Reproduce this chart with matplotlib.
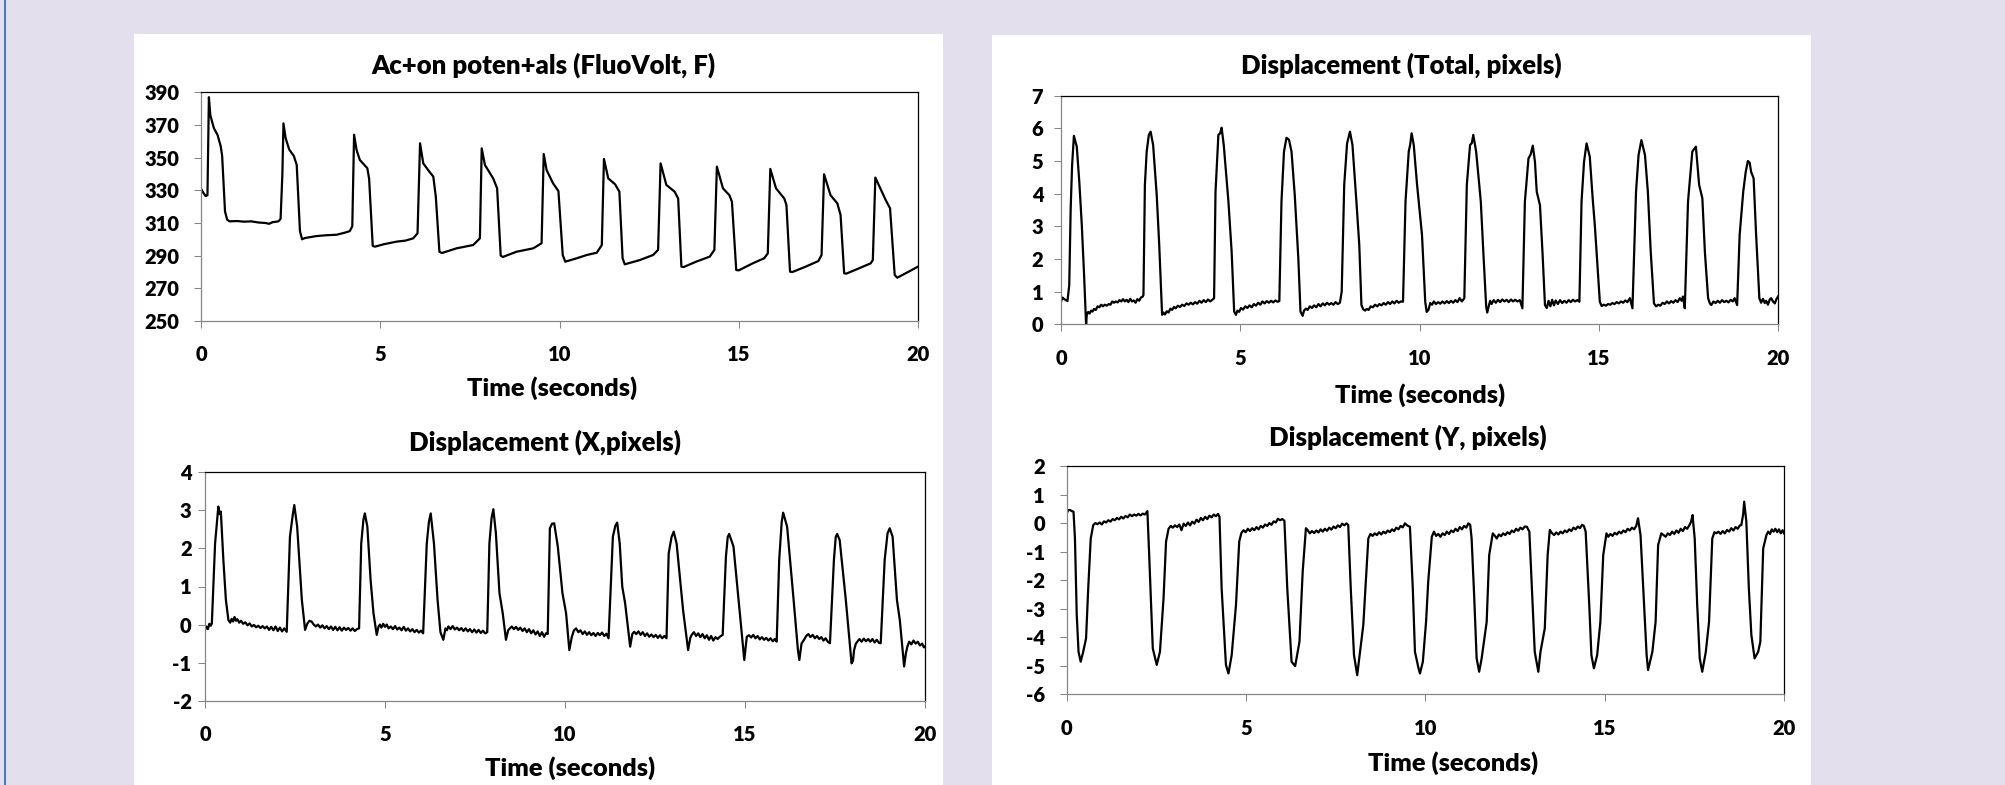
import matplotlib
matplotlib.use("Agg")
import matplotlib.pyplot as plt
from matplotlib.patches import Rectangle
from matplotlib.lines import Line2D

W, H = 2005, 785

# ---- traces: (time s, value) ----
ap_pts = [
    (0.00, 331), (0.05, 329), (0.13, 326.5), (0.18, 327), (0.22, 387), (0.26, 376), (0.36, 368),
    (0.46, 364), (0.55, 357), (0.59, 351), (0.67, 317), (0.73, 312), (0.80, 311), (1.0, 311.2),
    (1.2, 310.8), (1.4, 311), (1.6, 310.3), (1.8, 310), (1.9, 309.5), (2.0, 310.5), (2.16, 311),
    (2.22, 312.5), (2.27, 340), (2.30, 371), (2.36, 362), (2.46, 355), (2.59, 351), (2.67, 345.5),
    (2.76, 305), (2.82, 300), (2.9, 300.8), (3.22, 302), (3.5, 302.5), (3.78, 302.8), (4.0, 304),
    (4.15, 305), (4.22, 308), (4.27, 364), (4.34, 354.7), (4.43, 348.6), (4.64, 343.5), (4.69, 337),
    (4.79, 296), (4.85, 295.5), (5.1, 297), (5.46, 298.6), (5.7, 299.2), (5.92, 300.6), (6.04, 303.7),
    (6.11, 358.8), (6.20, 346.5), (6.37, 341.4), (6.48, 338.4), (6.55, 326), (6.65, 292.4),
    (6.72, 291.6), (7.13, 294.5), (7.59, 296.5), (7.78, 300.6), (7.83, 355.7), (7.92, 345.5),
    (8.15, 337.3), (8.26, 331.2), (8.36, 290), (8.42, 289.2), (8.80, 292.4), (9.27, 294.5),
    (9.50, 297.6), (9.56, 352.2), (9.64, 342.4), (9.82, 334.3), (9.97, 329.5), (10.09, 290.4),
    (10.16, 286.3), (10.48, 288.4), (10.76, 290.4), (11.04, 291.8), (11.18, 296.5), (11.24, 349.2),
    (11.36, 337.3), (11.55, 333.7), (11.67, 329.2), (11.76, 288.4), (11.82, 284.7), (12.24, 287.3),
    (12.61, 290.4), (12.75, 293.5), (12.82, 346.5), (12.98, 333.3), (13.21, 329.2), (13.31, 325),
    (13.40, 283.3), (13.46, 283), (13.81, 286.3), (14.19, 289.4), (14.32, 293.5), (14.39, 344.5),
    (14.56, 331.2), (14.74, 327), (14.81, 323), (14.93, 281.2), (15.0, 281), (15.39, 285.3),
    (15.71, 288.4), (15.81, 291.4), (15.88, 343.1), (16.04, 331.2), (16.27, 325), (16.33, 321),
    (16.43, 280.2), (16.5, 280), (16.87, 283.3), (17.22, 286.7), (17.31, 290.4), (17.38, 339.8),
    (17.56, 327), (17.75, 322), (17.84, 314.9), (17.94, 279.2), (18.0, 279), (18.35, 282.2),
    (18.68, 285.3), (18.74, 287.3), (18.81, 337.8), (18.95, 331.2), (19.10, 324), (19.22, 319),
    (19.35, 278.2), (19.42, 276.5), (19.74, 280.2), (20.0, 283.3),
]

tot_pts = [
    (0.00, 0.69), (0.04, 0.82), (0.08, 0.78), (0.12, 0.75), (0.18, 0.71), (0.23, 1.2), (0.27, 3.55),
    (0.31, 4.88), (0.36, 5.77), (0.40, 5.6), (0.44, 5.44), (0.51, 4.37), (0.58, 3.04), (0.64, 1.61),
    (0.70, 0.0), (0.72, 0.29), (0.76, 0.38), (0.80, 0.33), (0.84, 0.42), (0.88, 0.39), (0.92, 0.47),
    (0.97, 0.44), (1.02, 0.55), (1.07, 0.52), (1.12, 0.6), (1.17, 0.55), (1.22, 0.6), (1.28, 0.57),
    (1.33, 0.62), (1.38, 0.6), (1.43, 0.7), (1.48, 0.66), (1.53, 0.7), (1.58, 0.67), (1.63, 0.74),
    (1.68, 0.7), (1.73, 0.77), (1.78, 0.7), (1.83, 0.75), (1.88, 0.68), (1.93, 0.78), (1.98, 0.7),
    (2.03, 0.73), (2.08, 0.66), (2.13, 0.77), (2.18, 0.72), (2.23, 0.82), (2.28, 0.85), (2.30, 0.9),
    (2.34, 4.27), (2.39, 5.29), (2.45, 5.8), (2.50, 5.9), (2.57, 5.49), (2.67, 3.96), (2.74, 2.43),
    (2.82, 0.29), (2.86, 0.36), (2.90, 0.3), (2.95, 0.4), (3.0, 0.36), (3.05, 0.48), (3.1, 0.44),
    (3.15, 0.53), (3.2, 0.49), (3.26, 0.57), (3.32, 0.53), (3.38, 0.6), (3.44, 0.56), (3.5, 0.64),
    (3.56, 0.6), (3.62, 0.66), (3.68, 0.61), (3.74, 0.68), (3.8, 0.63), (3.86, 0.72), (3.92, 0.66),
    (3.98, 0.74), (4.04, 0.68), (4.1, 0.76), (4.16, 0.7), (4.22, 0.75), (4.27, 0.8),
    (4.31, 4.06), (4.39, 5.8), (4.44, 5.85), (4.48, 6.02), (4.54, 5.49), (4.67, 3.76), (4.76, 2.22),
    (4.83, 0.39), (4.88, 0.29), (4.92, 0.42), (4.97, 0.38), (5.02, 0.5), (5.08, 0.45), (5.14, 0.55),
    (5.2, 0.5), (5.26, 0.58), (5.32, 0.52), (5.38, 0.62), (5.44, 0.57), (5.5, 0.66), (5.56, 0.6),
    (5.62, 0.7), (5.68, 0.64), (5.74, 0.71), (5.8, 0.66), (5.86, 0.72), (5.92, 0.67), (5.98, 0.73),
    (6.04, 0.69), (6.09, 0.71),
    (6.15, 3.76), (6.22, 5.29), (6.29, 5.71), (6.36, 5.65), (6.43, 5.29), (6.52, 3.96), (6.62, 2.02),
    (6.68, 0.39), (6.74, 0.26), (6.78, 0.42), (6.83, 0.48), (6.88, 0.44), (6.94, 0.55), (7.0, 0.5),
    (7.06, 0.58), (7.12, 0.52), (7.18, 0.62), (7.24, 0.55), (7.3, 0.64), (7.36, 0.58), (7.42, 0.66),
    (7.48, 0.6), (7.54, 0.65), (7.6, 0.6), (7.66, 0.68), (7.72, 0.62), (7.78, 0.66), (7.83, 1.0),
    (7.90, 4.27), (7.98, 5.54), (8.06, 5.9), (8.13, 5.49), (8.24, 3.76), (8.32, 2.43),
    (8.38, 0.59), (8.43, 0.46), (8.48, 0.42), (8.53, 0.47), (8.58, 0.44), (8.64, 0.55), (8.7, 0.52),
    (8.76, 0.6), (8.82, 0.55), (8.88, 0.62), (8.94, 0.58), (9.0, 0.65), (9.06, 0.6), (9.12, 0.68),
    (9.18, 0.62), (9.24, 0.7), (9.3, 0.64), (9.36, 0.72), (9.42, 0.66), (9.48, 0.7), (9.54, 0.69),
    (9.61, 3.76), (9.70, 5.29), (9.74, 5.5), (9.78, 5.85), (9.84, 5.49), (9.93, 4.3), (10.07, 2.73),
    (10.16, 0.69), (10.2, 0.38), (10.25, 0.44), (10.3, 0.65), (10.35, 0.6), (10.4, 0.7), (10.46, 0.62),
    (10.52, 0.68), (10.58, 0.63), (10.64, 0.7), (10.7, 0.64), (10.76, 0.71), (10.82, 0.65),
    (10.88, 0.72), (10.94, 0.66), (11.0, 0.74), (11.06, 0.68), (11.12, 0.8), (11.18, 0.7), (11.25, 0.8),
    (11.32, 4.27), (11.41, 5.49), (11.46, 5.55), (11.50, 5.8), (11.58, 5.29), (11.71, 3.76),
    (11.78, 2.22), (11.86, 0.54), (11.89, 0.36), (11.93, 0.55), (11.97, 0.72), (12.01, 0.62),
    (12.07, 0.74), (12.13, 0.66), (12.19, 0.75), (12.25, 0.68), (12.31, 0.76), (12.37, 0.7),
    (12.43, 0.75), (12.49, 0.68), (12.55, 0.76), (12.61, 0.7), (12.67, 0.75), (12.73, 0.7),
    (12.8, 0.74), (12.87, 0.49),
    (12.94, 3.76), (13.04, 5.08), (13.1, 5.2), (13.16, 5.47), (13.22, 4.98), (13.27, 4.06),
    (13.36, 3.65), (13.43, 2.22), (13.5, 0.59), (13.55, 0.5), (13.6, 0.72), (13.65, 0.55),
    (13.7, 0.75), (13.75, 0.58), (13.8, 0.73), (13.86, 0.62), (13.92, 0.74), (13.98, 0.65),
    (14.04, 0.72), (14.1, 0.66), (14.16, 0.74), (14.22, 0.68), (14.28, 0.75), (14.34, 0.7),
    (14.4, 0.74), (14.46, 0.69),
    (14.52, 3.76), (14.59, 4.98), (14.66, 5.54), (14.75, 5.13), (14.83, 3.86), (14.89, 3.04),
    (15.03, 0.69), (15.08, 0.56), (15.14, 0.6), (15.2, 0.57), (15.26, 0.62), (15.32, 0.6),
    (15.38, 0.65), (15.44, 0.62), (15.5, 0.68), (15.56, 0.64), (15.62, 0.7), (15.68, 0.66),
    (15.74, 0.73), (15.8, 0.68), (15.87, 0.8), (15.94, 0.49),
    (16.04, 4.06), (16.11, 5.18), (16.19, 5.64), (16.29, 5.18), (16.37, 4.06), (16.45, 2.22),
    (16.54, 0.64), (16.6, 0.55), (16.66, 0.6), (16.72, 0.57), (16.78, 0.66), (16.84, 0.62),
    (16.9, 0.7), (16.96, 0.64), (17.02, 0.71), (17.08, 0.66), (17.14, 0.74), (17.2, 0.68),
    (17.26, 0.8), (17.31, 0.72), (17.35, 0.85), (17.40, 0.49),
    (17.49, 3.76), (17.61, 5.29), (17.71, 5.44), (17.80, 4.27), (17.89, 3.86), (17.96, 2.22),
    (18.05, 0.8), (18.1, 0.64), (18.14, 0.59), (18.2, 0.7), (18.26, 0.65), (18.32, 0.72),
    (18.38, 0.66), (18.44, 0.74), (18.5, 0.68), (18.56, 0.72), (18.62, 0.67), (18.68, 0.75),
    (18.74, 0.7), (18.79, 0.8), (18.86, 0.59),
    (18.93, 2.73), (19.03, 4.06), (19.10, 4.67), (19.16, 5.0), (19.21, 4.95), (19.25, 4.67),
    (19.32, 4.47), (19.39, 2.73), (19.48, 0.8), (19.53, 0.66), (19.58, 0.78), (19.63, 0.65),
    (19.67, 0.72), (19.72, 0.6), (19.77, 0.76), (19.81, 0.8), (19.86, 0.7), (19.91, 0.64),
    (19.96, 0.78), (20.0, 0.85),
]

dx_pts = [
    (0.00, -0.14), (0.04, -0.05), (0.08, -0.12), (0.12, 0.02), (0.16, -0.03), (0.19, 0.03),
    (0.28, 2.13), (0.37, 3.1), (0.40, 2.9), (0.44, 2.97), (0.51, 1.7), (0.58, 0.65), (0.65, 0.12),
    (0.7, 0.05), (0.74, 0.15), (0.78, 0.08), (0.82, 0.2), (0.86, 0.1), (0.9, 0.14), (0.95, 0.05),
    (1.0, 0.1), (1.06, 0.02), (1.12, 0.06), (1.18, -0.02), (1.24, 0.03), (1.3, -0.05), (1.36, -0.01),
    (1.42, -0.07), (1.48, -0.03), (1.54, -0.09), (1.6, -0.04), (1.66, -0.1), (1.72, -0.05),
    (1.78, -0.14), (1.84, -0.06), (1.9, -0.15), (1.96, -0.05), (2.02, -0.17), (2.08, -0.08),
    (2.14, -0.18), (2.2, -0.1), (2.27, -0.19),
    (2.36, 2.31), (2.44, 2.9), (2.48, 3.14), (2.56, 2.57), (2.69, 0.65), (2.78, -0.14),
    (2.84, 0.02), (2.9, 0.1), (2.96, 0.08), (3.02, 0.0), (3.08, -0.05), (3.14, 0.0), (3.2, -0.08),
    (3.26, -0.02), (3.32, -0.1), (3.38, -0.04), (3.44, -0.12), (3.5, -0.05), (3.56, -0.14),
    (3.62, -0.06), (3.68, -0.15), (3.74, -0.07), (3.8, -0.16), (3.86, -0.08), (3.92, -0.14),
    (3.98, -0.09), (4.04, -0.16), (4.1, -0.1), (4.16, -0.17), (4.22, -0.12), (4.28, -0.1),
    (4.34, 2.13), (4.40, 2.75), (4.44, 2.92), (4.51, 2.57), (4.60, 1.17), (4.68, 0.3), (4.77, -0.27),
    (4.82, -0.05), (4.86, 0.0), (4.9, -0.08), (4.95, 0.02), (5.0, -0.06), (5.05, 0.0), (5.1, -0.1),
    (5.16, -0.05), (5.22, -0.12), (5.28, -0.04), (5.34, -0.13), (5.4, -0.08), (5.46, -0.15),
    (5.52, -0.06), (5.58, -0.16), (5.64, -0.1), (5.7, -0.18), (5.76, -0.12), (5.82, -0.2),
    (5.88, -0.14), (5.94, -0.21), (6.0, -0.16), (6.06, -0.23),
    (6.16, 2.13), (6.22, 2.7), (6.27, 2.92), (6.36, 2.13), (6.46, 0.65), (6.54, -0.2), (6.62, -0.4),
    (6.68, -0.1), (6.72, -0.15), (6.76, -0.05), (6.82, -0.12), (6.88, -0.04), (6.94, -0.13),
    (7.0, -0.08), (7.06, -0.15), (7.12, -0.09), (7.18, -0.17), (7.24, -0.1), (7.3, -0.18),
    (7.36, -0.12), (7.42, -0.2), (7.48, -0.13), (7.54, -0.21), (7.6, -0.14), (7.66, -0.22),
    (7.72, -0.16), (7.78, -0.23), (7.84, -0.2),
    (7.90, 2.13), (7.96, 2.8), (8.01, 3.03), (8.08, 2.4), (8.18, 0.82), (8.27, 0.3), (8.36, -0.4),
    (8.42, -0.15), (8.47, -0.1), (8.52, -0.05), (8.58, -0.12), (8.64, -0.06), (8.7, -0.14),
    (8.76, -0.08), (8.82, -0.17), (8.88, -0.1), (8.94, -0.2), (9.0, -0.12), (9.06, -0.23),
    (9.12, -0.15), (9.18, -0.26), (9.24, -0.18), (9.3, -0.3), (9.36, -0.2), (9.42, -0.32),
    (9.48, -0.22), (9.52, -0.25),
    (9.58, 2.53), (9.64, 2.65), (9.70, 2.66), (9.80, 2.05), (9.93, 0.82), (10.03, 0.3), (10.12, -0.67),
    (10.19, -0.32), (10.25, -0.15), (10.31, -0.1), (10.37, -0.2), (10.43, -0.15), (10.49, -0.25),
    (10.55, -0.18), (10.61, -0.27), (10.67, -0.2), (10.73, -0.28), (10.79, -0.22), (10.85, -0.3),
    (10.91, -0.22), (10.97, -0.28), (11.03, -0.21), (11.09, -0.3), (11.15, -0.24), (11.21, -0.36),
    (11.33, 2.31), (11.40, 2.6), (11.45, 2.68), (11.52, 2.13), (11.59, 1.0), (11.67, 0.56),
    (11.81, -0.58), (11.87, -0.25), (11.92, -0.19), (11.98, -0.25), (12.04, -0.18), (12.1, -0.27),
    (12.16, -0.2), (12.22, -0.3), (12.28, -0.23), (12.34, -0.32), (12.4, -0.26), (12.46, -0.33),
    (12.52, -0.27), (12.58, -0.35), (12.64, -0.28), (12.7, -0.36), (12.76, -0.3), (12.82, -0.36),
    (12.88, 1.87), (12.96, 2.3), (13.02, 2.44), (13.10, 2.13), (13.28, 0.38), (13.42, -0.67),
    (13.48, -0.35), (13.52, -0.27), (13.58, -0.2), (13.64, -0.3), (13.7, -0.23), (13.76, -0.33),
    (13.82, -0.25), (13.88, -0.36), (13.94, -0.28), (14.0, -0.4), (14.06, -0.3), (14.12, -0.42),
    (14.18, -0.33), (14.24, -0.38), (14.3, -0.32), (14.38, -0.27),
    (14.47, 1.78), (14.52, 2.3), (14.56, 2.38), (14.68, 2.05), (14.84, 0.47), (14.98, -0.93),
    (15.05, -0.32), (15.11, -0.28), (15.17, -0.34), (15.23, -0.27), (15.29, -0.36), (15.35, -0.3),
    (15.41, -0.39), (15.47, -0.33), (15.53, -0.4), (15.59, -0.35), (15.65, -0.42), (15.71, -0.36),
    (15.77, -0.44), (15.83, -0.38), (15.88, -0.45),
    (15.95, 1.7), (16.02, 2.7), (16.06, 2.94), (16.17, 2.57), (16.35, 0.65), (16.47, -0.67),
    (16.51, -0.93), (16.57, -0.5), (16.64, -0.4), (16.7, -0.3), (16.76, -0.25), (16.82, -0.33),
    (16.88, -0.27), (16.94, -0.36), (17.0, -0.3), (17.06, -0.38), (17.12, -0.33), (17.18, -0.42),
    (17.24, -0.36), (17.3, -0.45), (17.36, -0.49),
    (17.47, 1.7), (17.52, 2.3), (17.56, 2.38), (17.63, 2.22), (17.80, 0.65), (17.96, -1.02),
    (18.0, -0.95), (18.03, -0.67), (18.08, -0.5), (18.12, -0.45), (18.18, -0.38), (18.24, -0.45),
    (18.3, -0.37), (18.36, -0.44), (18.42, -0.38), (18.48, -0.45), (18.54, -0.38), (18.6, -0.47),
    (18.66, -0.4), (18.72, -0.48), (18.77, -0.49),
    (18.88, 1.7), (18.96, 2.4), (19.02, 2.53), (19.10, 2.31), (19.22, 0.65), (19.30, 0.12),
    (19.42, -1.1), (19.47, -0.75), (19.51, -0.58), (19.56, -0.45), (19.62, -0.52), (19.68, -0.42),
    (19.74, -0.5), (19.8, -0.45), (19.86, -0.55), (19.92, -0.5), (19.97, -0.6), (20.0, -0.58),
]

dy_pts = [
    (0.00, 0.34), (0.04, 0.45), (0.09, 0.46), (0.14, 0.42), (0.19, 0.4), (0.23, -0.54), (0.28, -3.22),
    (0.33, -4.51), (0.39, -4.86), (0.46, -4.51), (0.54, -4.04), (0.60, -2.29), (0.67, -0.54),
    (0.74, -0.07), (0.8, 0.0), (0.86, -0.04), (0.92, 0.02), (0.98, -0.05), (1.04, 0.06), (1.1, 0.02),
    (1.16, 0.1), (1.22, 0.05), (1.28, 0.14), (1.34, 0.1), (1.4, 0.18), (1.46, 0.13), (1.52, 0.22),
    (1.58, 0.16), (1.64, 0.25), (1.7, 0.2), (1.76, 0.3), (1.82, 0.24), (1.88, 0.3), (1.94, 0.26),
    (2.0, 0.32), (2.06, 0.27), (2.12, 0.33), (2.18, 0.3), (2.25, 0.42),
    (2.30, -1.12), (2.40, -4.39), (2.51, -4.97), (2.60, -4.51), (2.70, -2.64), (2.77, -0.65),
    (2.84, -0.2), (2.9, -0.1), (2.96, -0.16), (3.02, -0.08), (3.08, -0.14), (3.14, -0.05),
    (3.2, -0.25), (3.26, -0.02), (3.32, -0.1), (3.38, 0.02), (3.44, -0.08), (3.5, 0.05),
    (3.56, -0.02), (3.62, 0.12), (3.68, 0.04), (3.74, 0.18), (3.8, 0.1), (3.86, 0.22), (3.92, 0.14),
    (3.98, 0.26), (4.04, 0.2), (4.1, 0.3), (4.16, 0.24), (4.22, 0.32), (4.26, 0.22),
    (4.32, -2.29), (4.44, -4.97), (4.51, -5.27), (4.60, -4.63), (4.72, -2.87), (4.81, -0.65),
    (4.87, -0.35), (4.93, -0.25), (4.99, -0.32), (5.05, -0.2), (5.11, -0.28), (5.17, -0.18),
    (5.23, -0.25), (5.29, -0.14), (5.35, -0.22), (5.41, -0.1), (5.47, -0.16), (5.53, -0.05),
    (5.59, -0.1), (5.65, 0.0), (5.71, -0.06), (5.77, 0.06), (5.83, 0.02), (5.89, 0.15), (5.95, 0.1),
    (6.01, 0.14), (6.07, 0.08),
    (6.15, -2.29), (6.27, -4.86), (6.37, -5.01), (6.49, -4.16), (6.58, -1.7), (6.67, -0.18),
    (6.72, -0.25), (6.78, -0.36), (6.84, -0.28), (6.9, -0.35), (6.96, -0.26), (7.02, -0.33),
    (7.08, -0.22), (7.14, -0.3), (7.2, -0.2), (7.26, -0.27), (7.32, -0.16), (7.38, -0.23),
    (7.44, -0.12), (7.5, -0.18), (7.56, -0.08), (7.62, -0.14), (7.68, -0.02), (7.74, -0.08),
    (7.8, -0.01), (7.85, -0.07),
    (7.92, -2.29), (8.01, -4.62), (8.10, -5.33), (8.19, -4.39), (8.27, -3.57), (8.41, -0.54),
    (8.47, -0.38), (8.53, -0.45), (8.59, -0.36), (8.65, -0.42), (8.71, -0.32), (8.77, -0.4),
    (8.83, -0.3), (8.89, -0.36), (8.95, -0.26), (9.01, -0.32), (9.07, -0.22), (9.13, -0.28),
    (9.19, -0.16), (9.25, -0.22), (9.31, -0.1), (9.37, -0.15), (9.43, -0.01), (9.49, -0.08),
    (9.57, -0.13),
    (9.65, -2.29), (9.71, -4.51), (9.81, -5.09), (9.85, -5.27), (9.93, -4.86), (10.02, -3.46),
    (10.08, -2.05), (10.18, -0.48), (10.24, -0.3), (10.3, -0.45), (10.36, -0.38), (10.42, -0.48),
    (10.48, -0.36), (10.54, -0.42), (10.6, -0.3), (10.66, -0.38), (10.72, -0.26), (10.78, -0.32),
    (10.84, -0.2), (10.9, -0.28), (10.96, -0.14), (11.02, -0.22), (11.08, -0.1), (11.14, -0.16),
    (11.2, -0.01), (11.25, -0.06),
    (11.29, -0.54), (11.36, -2.52), (11.43, -4.74), (11.50, -5.21), (11.57, -4.74), (11.71, -3.46),
    (11.78, -1.12), (11.88, -0.36), (11.94, -0.45), (11.99, -0.54), (12.05, -0.4), (12.11, -0.46),
    (12.17, -0.36), (12.23, -0.42), (12.29, -0.32), (12.35, -0.38), (12.41, -0.26), (12.47, -0.32),
    (12.53, -0.2), (12.59, -0.27), (12.65, -0.16), (12.71, -0.22), (12.77, -0.12), (12.83, -0.13),
    (12.90, -0.3), (12.99, -2.87), (13.05, -4.51), (13.15, -5.21), (13.21, -4.51), (13.33, -3.69),
    (13.41, -1.12), (13.47, -0.24), (13.53, -0.35), (13.59, -0.42), (13.65, -0.33), (13.71, -0.4),
    (13.77, -0.3), (13.83, -0.36), (13.89, -0.26), (13.95, -0.32), (14.01, -0.22), (14.07, -0.28),
    (14.13, -0.16), (14.19, -0.22), (14.25, -0.12), (14.31, -0.18), (14.37, -0.06), (14.42, -0.1),
    (14.47, -0.3), (14.57, -2.87), (14.63, -4.63), (14.70, -5.09), (14.79, -4.63), (14.88, -3.46),
    (14.96, -1.12), (15.05, -0.36), (15.1, -0.48), (15.16, -0.38), (15.22, -0.45), (15.28, -0.34),
    (15.34, -0.4), (15.4, -0.3), (15.46, -0.36), (15.52, -0.26), (15.58, -0.32), (15.64, -0.2),
    (15.7, -0.26), (15.76, -0.16), (15.82, -0.22), (15.88, -0.1), (15.93, 0.17),
    (16.00, -0.42), (16.10, -2.87), (16.17, -4.63), (16.21, -5.15), (16.33, -4.51), (16.42, -3.46),
    (16.49, -0.77), (16.58, -0.36), (16.64, -0.42), (16.7, -0.48), (16.76, -0.36), (16.82, -0.42),
    (16.88, -0.3), (16.94, -0.38), (17.0, -0.26), (17.06, -0.34), (17.12, -0.2), (17.18, -0.28),
    (17.24, -0.14), (17.3, -0.2), (17.36, -0.08), (17.41, 0.05), (17.45, 0.28),
    (17.51, -0.54), (17.58, -2.87), (17.65, -4.74), (17.72, -5.21), (17.82, -4.51), (17.91, -3.46),
    (18.00, -0.54), (18.06, -0.32), (18.11, -0.36), (18.17, -0.3), (18.23, -0.38), (18.29, -0.28),
    (18.35, -0.36), (18.41, -0.24), (18.47, -0.3), (18.53, -0.18), (18.59, -0.26), (18.65, -0.14),
    (18.71, -0.2), (18.77, -0.08), (18.81, -0.07), (18.86, 0.3), (18.89, 0.75), (18.92, 0.4),
    (18.95, 0.05), (19.02, -2.29), (19.09, -3.92), (19.18, -4.74), (19.28, -4.51), (19.34, -4.16),
    (19.42, -0.89), (19.51, -0.42), (19.56, -0.3), (19.61, -0.38), (19.66, -0.22), (19.71, -0.3),
    (19.76, -0.2), (19.81, -0.32), (19.86, -0.22), (19.91, -0.36), (19.96, -0.25), (20.0, -0.36),
]

titles = ["Ac+on poten+als (FluoVolt, F)", "Displacement (Total, pixels)",
          "Displacement (X,pixels)", "Displacement (Y, pixels)"]
x_label = "Time (seconds)"
x_ticks = [0, 5, 10, 15, 20]
ap_ticks = [250, 270, 290, 310, 330, 350, 370, 390]
tot_ticks = [0, 1, 2, 3, 4, 5, 6, 7]
dx_ticks = [-2, -1, 0, 1, 2, 3, 4]
dy_ticks = [-6, -5, -4, -3, -2, -1, 0, 1, 2]

WEIGHT = "heavy"
plt.rcParams["font.family"] = ["Lato", "DejaVu Sans"]
plt.rcParams["font.weight"] = WEIGHT
plt.rcParams["axes.unicode_minus"] = False

BG = "#E4DFEC"
GREY = "#868686"

fig = plt.figure(figsize=(W / 100, H / 100), dpi=100, facecolor=BG)


def frac(x0, y0, x1, y1):
    # pixel box (top-left origin) -> figure fraction [l, b, w, h]
    return [x0 / W, 1 - y1 / H, (x1 - x0) / W, (y1 - y0) / H]


# white chart panels and the blue rule at the left edge (behind the axes)
for box in [(134, 34, 943, 785), (992, 35, 1811, 785)]:
    l, b, w, h = frac(*box)
    fig.patches.append(Rectangle((l, b), w, h, transform=fig.transFigure,
                                 facecolor="white", edgecolor="none", zorder=-5))
fig.lines.append(Line2D([5 / W, 5 / W], [0, 1], transform=fig.transFigure,
                        color="#4A7EBB", lw=1.5, zorder=-4))

panels = [
    # axes box, points, yticks, y pad, title (x, y), xlabel (x, y)
    ((201, 92.3, 918, 321), ap_pts, ap_ticks, 11, (543, 65), (552, 388)),
    ((1061, 95.7, 1778, 324.3), tot_pts, tot_ticks, 8, (1401, 65), (1420, 395)),
    ((205, 472.3, 925, 700.7), dx_pts, dx_ticks, 5, (545, 442), (570, 768)),
    ((1066.7, 466, 1784, 694.3), dy_pts, dy_ticks, 11, (1408, 437), (1453, 763)),
]

for (box, pts, yt, ypad, tpos, xpos), title in zip(panels, titles):
    t, v = zip(*pts)
    ax = fig.add_axes(frac(*box), zorder=1)
    ax.set_facecolor("white")
    ax.plot(t, v, color="black", lw=1.6)
    ax.set_xlim(0, 20)
    ax.set_ylim(yt[0], yt[-1])
    ax.set_xticks(x_ticks)
    ax.set_yticks(yt)
    for s in ["top", "right"]:
        ax.spines[s].set_color("black")
        ax.spines[s].set_linewidth(0.9)
    for s in ["left", "bottom"]:
        ax.spines[s].set_color(GREY)
        ax.spines[s].set_linewidth(0.9)
    ax.tick_params(direction="out", length=4.7, width=0.75, color=GREY, labelsize=14.5)
    ax.tick_params(axis="x", pad=12.8)
    ax.tick_params(axis="y", pad=ypad)
    for lab in ax.get_xticklabels() + ax.get_yticklabels():
        lab.set_fontweight(WEIGHT)
    fig.text(tpos[0] / W, 1 - tpos[1] / H, title, ha="center", va="center",
             fontsize=18.5, fontweight=WEIGHT)
    fig.text(xpos[0] / W, 1 - xpos[1] / H, x_label, ha="center", va="center",
             fontsize=18.3, fontweight=WEIGHT)

fig.savefig("out.png", dpi=100, facecolor=BG)
